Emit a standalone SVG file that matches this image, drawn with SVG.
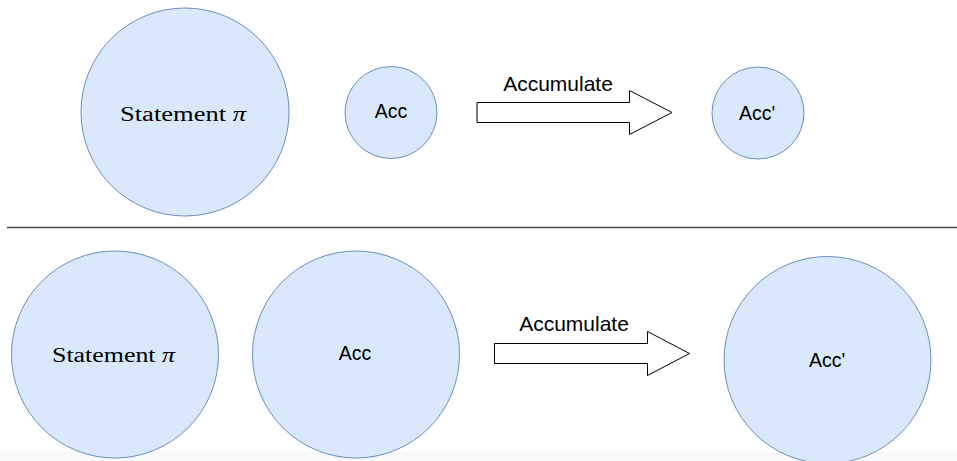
<svg xmlns="http://www.w3.org/2000/svg" width="957" height="461" viewBox="0 0 957 461">
  <style>
    .node { fill: #dae8fc; stroke: #6c8ebf; stroke-width: 1; }
    .arrow { fill: #ffffff; stroke: #000000; stroke-width: 1; }
    .sans { font-family: "Liberation Sans", Arial, sans-serif; fill: #000000; text-anchor: middle; }
    .serif { font-family: "Liberation Serif", "Times New Roman", serif; fill: #000000; text-anchor: middle; font-size: 20px; }
  </style>
  <rect x="0" y="0" width="957" height="461" fill="#ffffff"/>
  <!-- footer band -->
  <rect x="0" y="452" width="957" height="9" fill="#f8f9fa"/>

  <!-- top row -->
  <g id="statement-top">
    <circle class="node" cx="185" cy="112" r="104"/>
    <text class="serif" x="183" y="121" textLength="126" lengthAdjust="spacingAndGlyphs">Statement <tspan font-style="italic">π</tspan></text>
  </g>
  <g id="acc-top">
    <circle class="node" cx="391" cy="112.5" r="46"/>
    <text class="sans" x="391" y="118" font-size="19.5">Acc</text>
  </g>
  <g id="acc-prime-top">
    <circle class="node" cx="758" cy="113" r="46"/>
    <text class="sans" x="757" y="120" font-size="19.5">Acc'</text>
  </g>

  <!-- divider -->
  <line x1="7" y1="227.5" x2="957" y2="227.5" stroke="#444444" stroke-width="1.5"/>

  <!-- bottom row -->
  <g id="statement-bottom">
    <circle class="node" cx="115" cy="354.5" r="103.5"/>
    <text class="serif" x="113.5" y="362" textLength="123" lengthAdjust="spacingAndGlyphs">Statement <tspan font-style="italic">π</tspan></text>
  </g>
  <g id="acc-bottom">
    <circle class="node" cx="356" cy="354.5" r="103.5"/>
    <text class="sans" x="355" y="360" font-size="19.5">Acc</text>
  </g>
  <g id="acc-prime-bottom">
    <circle class="node" cx="827.5" cy="360" r="103.5"/>
    <text class="sans" x="827" y="367" font-size="19.5">Acc'</text>
  </g>

  <!-- connectors -->
  <g id="connectors">
    <g id="accumulate-top">
      <polygon class="arrow" points="477,102.5 629.5,102.5 629.5,90.5 672,112.5 629.5,134.5 629.5,122.5 477,122.5"/>
      <text class="sans" x="558" y="90.5" font-size="21">Accumulate</text>
    </g>
    <g id="accumulate-bottom">
      <polygon class="arrow" points="494.5,343.5 647.5,343.5 647.5,331.5 689.5,353.5 647.5,375.5 647.5,363.5 494.5,363.5"/>
      <text class="sans" x="574" y="331" font-size="21">Accumulate</text>
    </g>
  </g>
</svg>
